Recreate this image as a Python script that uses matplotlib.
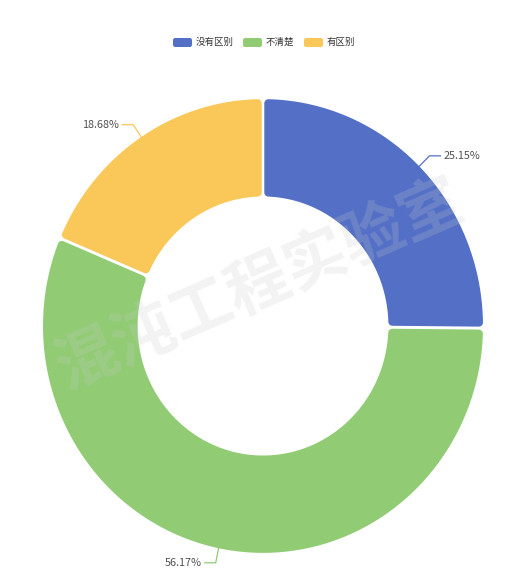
import numpy as np
import matplotlib
matplotlib.use("Agg")
import matplotlib.pyplot as plt
from matplotlib.patches import Polygon, FancyBboxPatch

plt.rcParams['font.family'] = ['Noto Sans CJK SC', 'DejaVu Sans']

# data
names = ['没有区别', '不清楚', '有区别']
values = [25.15, 56.17, 18.68]
colors = ['#5470c6', '#91cc75', '#fac858']
watermark = '混沌工程实验室'

W, H = 528, 586
cx, cy = 263, 326          # centre in pixels (from top)
rx, ry = 220, 227          # screenshot is a bit stretched vertically
r_in = 0.57                # inner radius, fraction of outer
gap = 1.3 / 220            # half gap between slices
rad = 4 / 220              # corner rounding

fig = plt.figure(figsize=(W / 100, H / 100), dpi=100)
ax = fig.add_axes([0, 0, 1, 1])
ax.set_xlim(-cx / rx, (W - cx) / rx)
ax.set_ylim(-(H - cy) / ry, cy / ry)
ax.axis('off')


def corner(theta, rho, s):
    # point on radius rho, shifted perpendicular to the radial line at theta by s
    t = np.sqrt(rho ** 2 - s ** 2)
    return theta + np.degrees(np.arctan2(s, t))


def sector(t1, t2, color):
    off = gap + rad
    ro = 1 - rad
    ri = r_in + rad
    a1o, a2o = corner(t1, ro, off), corner(t2, ro, -off)
    a1i, a2i = corner(t1, ri, off), corner(t2, ri, -off)
    to = np.radians(np.linspace(a1o, a2o, 200))
    ti = np.radians(np.linspace(a2i, a1i, 200))
    pts = np.concatenate([np.c_[ro * np.cos(to), ro * np.sin(to)],
                          np.c_[ri * np.cos(ti), ri * np.sin(ti)]])
    ax.add_patch(Polygon(pts, closed=True, facecolor=color, edgecolor=color,
                         lw=2 * 4 * 0.72, joinstyle='round', zorder=2))


total = sum(values)
start = 90.0
for name, v, c in zip(names, values, colors):
    span = v / total * 360
    t2 = start
    t1 = start - span
    sector(t1, t2, c)
    mid = np.radians((t1 + t2) / 2)
    p0 = np.array([np.cos(mid), np.sin(mid)]) * 1.0
    p1 = np.array([np.cos(mid), np.sin(mid)]) * 1.065
    side = 1 if np.cos(mid) >= 0 else -1
    p2 = p1 + np.array([side * 11 / rx, 0])
    ax.plot([p0[0], p1[0], p2[0]], [p0[1], p1[1], p2[1]], color=c, lw=0.9, zorder=3)
    ax.text(p2[0] + side * 3 / rx, p2[1], '%.2f%%' % v, ha='left' if side > 0 else 'right',
            va='center', fontsize=7.8, color='#505050', zorder=3)
    start = t1

# legend (pixel coordinates)
def px(x, y):
    return (x - cx) / rx, (cy - y) / ry

leg_x = [173, 243, 304]
for name, c, lx in zip(names, colors, leg_x):
    x0, y0 = px(lx, 47)
    ax.add_patch(FancyBboxPatch((x0, y0), 19 / rx, 9 / ry,
                                boxstyle='round,pad=0,rounding_size=0.01',
                                facecolor=c, edgecolor='none', zorder=3))
    tx, ty = px(lx + 23, 42.5)
    ax.text(tx, ty, name, ha='left', va='center', fontsize=6.8, color='#333333')

# watermark on top
wx, wy = px(260, 285)
ax.text(wx, wy, watermark, ha='center', va='center', rotation=23.5,
        fontsize=45, fontweight='bold', color='#c8c8c8', alpha=0.22, zorder=5)

fig.savefig('out.png', dpi=100)
